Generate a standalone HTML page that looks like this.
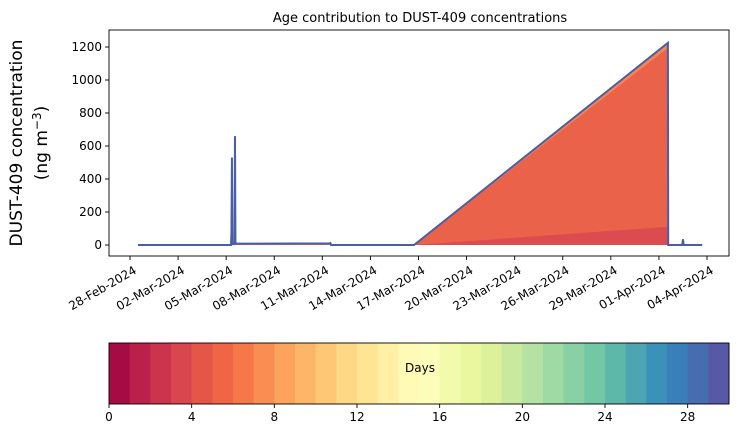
<!DOCTYPE html>
<html><head><meta charset="utf-8"><style>
body{margin:0;background:#fff;font-family:"Liberation Sans","DejaVu Sans",sans-serif}
svg text{font-family:"DejaVu Sans","Liberation Sans",sans-serif;fill:#000}
</style></head><body>
<svg id="chart" width="739" height="425" viewBox="0 0 739 425" xmlns="http://www.w3.org/2000/svg">
<rect width="739" height="425" fill="#fff"/>
<text x="420" y="22" font-size="13" text-anchor="middle">Age contribution to DUST-409 concentrations</text>
<text transform="translate(22,143) rotate(-90)" font-size="17" text-anchor="middle">DUST-409 concentration</text>
<text transform="translate(47,143) rotate(-90)" font-size="17" text-anchor="middle">(ng m<tspan font-size="12" dy="-6">−3</tspan><tspan dy="6">)</tspan></text>
<g id="plot"></g>
<g id="cbar"></g>
</svg>
<script>
// days since 28-Feb-2024 00:00
const times  = [0.5, 6.30, 6.33, 6.36, 6.39, 6.52, 6.55, 6.58, 6.62, 12.45, 12.5, 12.55, 17.72, 33.56, 33.58, 34.45, 34.5, 34.55, 35.7];
const totals = [0,   0,    80,   530,  5,    5,    660,  10,   8,    10,    12,    0,    0,     1225,  0,     0,     35,   0,     0];
const bottomLayer = [0,0,0,0,0,0,0,0,0,0,0,0,0,110,0,0,0,0,0];
const yTicks = [0,200,400,600,800,1000,1200];
const xTickLabels = ["28-Feb-2024","02-Mar-2024","05-Mar-2024","08-Mar-2024","11-Mar-2024","14-Mar-2024","17-Mar-2024","20-Mar-2024","23-Mar-2024","26-Mar-2024","29-Mar-2024","01-Apr-2024","04-Apr-2024"];
const xTickDays = [0,3,6,9,12,15,18,21,24,27,30,33,36];
const cbarTicks = [0,4,8,12,16,20,24,28];
const nDays = 30;

const NS="http://www.w3.org/2000/svg";
const L=109,R=729,T=30,B=256;
const xs=d=>130+d*(577/36);
const ys=v=>245-v*(198/1200);
function mk(tag,attrs,parent){const e=document.createElementNS(NS,tag);for(const k in attrs)e.setAttribute(k,attrs[k]);parent.appendChild(e);return e;}
const plot=document.getElementById('plot');

let pts=times.map((t,i)=>xs(t)+","+ys(totals[i])).join(" ");
pts+=" "+xs(times[times.length-1])+","+ys(0)+" "+xs(times[0])+","+ys(0);
let p=mk('polygon',{points:pts,fill:'#ea6249'},plot);


let pts2=times.map((t,i)=>xs(t)+","+ys(totals[i])).join(" ")+" "+[...times].reverse().map((t,j)=>{const i=times.length-1-j;return xs(t)+","+ys(totals[i]*0.975);}).join(" ");
p=mk('polygon',{points:pts2,fill:'#f6874e'},plot);


let pts3=times.map((t,i)=>xs(t)+","+ys(bottomLayer[i])).join(" ")+" "+xs(times[times.length-1])+","+ys(0)+" "+xs(times[0])+","+ys(0);
p=mk('polygon',{points:pts3,fill:'#dc4b4f'},plot);


p=mk('polyline',{points:times.map((t,i)=>xs(t)+","+ys(totals[i])).join(" "),fill:'none',stroke:'#4a5ea8','stroke-width':2},plot);



p=mk('rect',{x:L,y:T,width:R-L,height:B-T,fill:'none',stroke:'#000','stroke-width':0.9},plot);


yTicks.forEach(v=>{
  const y=ys(v);
  mk('line',{x1:L-4,x2:L,y1:y,y2:y,stroke:'#000','stroke-width':0.9},plot);
  const t=mk('text',{x:L-7,y:y+4,'font-size':12,'text-anchor':'end'},plot);t.textContent=v;
  
  
});
xTickDays.forEach((d,i)=>{
  const x=xs(d);
  mk('line',{x1:x,x2:x,y1:B,y2:B+4,stroke:'#000','stroke-width':0.9},plot);
  const t=mk('text',{transform:`translate(${x+3},${B+9}) rotate(-30)`,'font-size':12,'text-anchor':'end','dominant-baseline':'hanging'},plot);
  t.textContent=xTickLabels[i];
  
  
});

const anchors=["#9e0142","#d53e4f","#f46d43","#fdae61","#fee08b","#ffffbf","#e6f598","#abdda4","#66c2a5","#3288bd","#5e4fa2"];
function hex(h){return [1,3,5].map(i=>parseInt(h.substr(i,2),16));}
function spec(f){const s=f*10,i=Math.min(9,Math.floor(s)),r=s-i,a=hex(anchors[i]),b=hex(anchors[i+1]);return `rgb(${a.map((c,k)=>Math.round(c+(b[k]-c)*r)).join(",")})`;}
const cb=document.getElementById('cbar');
const CL=109,CR=729,CT=343,CB=404,cw=(CR-CL)/nDays;
for(let i=0;i<nDays;i++){
  const r=mk('rect',{x:CL+i*cw,y:CT,width:cw+0.5,height:CB-CT,fill:spec((i+0.5)/nDays)},cb);
  
  
}
p=mk('rect',{x:CL,y:CT,width:CR-CL,height:CB-CT,fill:'none',stroke:'#000','stroke-width':0.9},cb);


let dl=mk('text',{x:420,y:372,'font-size':12,'text-anchor':'middle'},cb);dl.textContent='Days';


cbarTicks.forEach(v=>{
  const x=CL+v*cw;
  mk('line',{x1:x,x2:x,y1:CB,y2:CB+4,stroke:'#000','stroke-width':0.9},cb);
  const t=mk('text',{x:x,y:CB+17,'font-size':12,'text-anchor':'middle'},cb);t.textContent=v;
  
  
});
</script>
</body></html>
